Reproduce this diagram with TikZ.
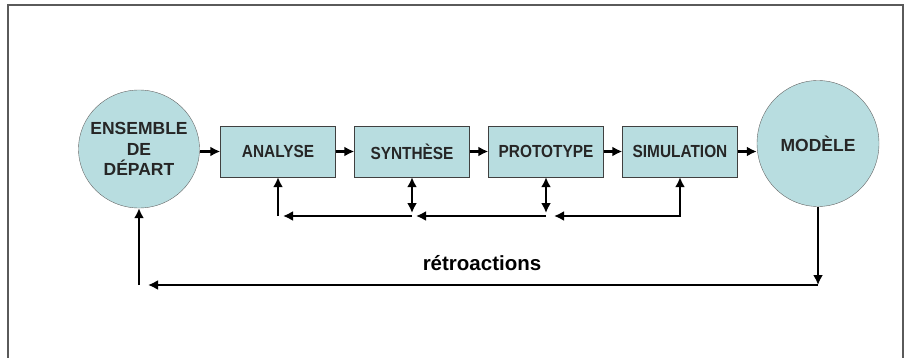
\documentclass[tikz,border=0pt]{standalone}
\usepackage{fontspec}
\setmainfont{Liberation Sans}
\newfontfamily\boxfont[FakeStretch=0.88]{Liberation Sans}
\usetikzlibrary{shapes.geometric,positioning,arrows.meta}
\definecolor{fillblue}{RGB}{184,221,224}
\definecolor{framegray}{RGB}{90,90,90}

\begin{document}
\begin{tikzpicture}[x=1pt,y=-1pt,node distance=134pt]
        \tikzstyle{etape} = [rectangle, minimum width=115pt, minimum height=51pt, text centered, draw=black!75, fill=fillblue, text=black!85, font=\boxfont\bfseries\fontsize{17.5}{20}\selectfont]
        \tikzstyle{extremite} = [ellipse, draw=black!60, fill=fillblue, align=center, text=black!85, inner sep=-20pt, font=\bfseries\fontsize{17.5}{20.5}\selectfont]
        \tikzstyle{arrow} = [line width=2.6pt,-{Latex[length=10pt,width=10pt]}]
        \tikzstyle{darrow} = [line width=2.6pt,{Latex[length=10pt,width=10pt]}-{Latex[length=10pt,width=10pt]}]

        \useasboundingbox (0,0) rectangle (904,358);
        \draw [framegray, line width=1.5pt] (8,358) -- (8,5) -- (903,5) -- (903,358);

        \node (ensemble) [extremite, minimum width=121pt, minimum height=118pt] at (139,149) {ENSEMBLE\\DE\\DÉPART};
        \node (analyse) [etape] at (278,151.5) {ANALYSE};
        \node (synthese) [etape, right of=analyse] {SYNTHÈSE};
        \node (prototype) [etape, right of=synthese] {PROTOTYPE};
        \node (simulation) [etape, right of=prototype] {SIMULATION};
        \node (modele) [extremite, minimum width=122pt, minimum height=126pt] at (818,143.5) {MODÈLE};
        \node (retro) at (482,263) {\bfseries\fontsize{20.5}{24}\selectfont rétroactions};

        \coordinate (retour) at (0,216);
        \coordinate (bas) at (0,285);

        % chaine principale
        \draw [arrow] (analyse.west -| ensemble.east) -- (analyse.west);
        \draw [arrow] (analyse) -- (synthese);
        \draw [arrow] (synthese) -- (prototype);
        \draw [arrow] (prototype) -- (simulation);
        \draw [arrow] (simulation.east) -- (simulation.east -| modele.west);

        % retours entre etapes
        \draw [arrow] (analyse.south |- retour) -- (analyse.south);
        \draw [darrow] (synthese.south) -- ([yshift=3pt]synthese.south |- retour);
        \draw [darrow] (prototype.south) -- ([yshift=3pt]prototype.south |- retour);
        \draw [arrow] (synthese.south |- retour) -- ([xshift=5pt]analyse.south |- retour);
        \draw [arrow] (prototype.south |- retour) -- ([xshift=4pt]synthese.south |- retour);
        \draw [darrow] ([xshift=8pt]prototype.south |- retour) -| (simulation.south);

        % retroactions
        \draw [arrow] (modele.south) -- (modele.south |- bas);
        \draw [arrow] (modele.south |- bas) -- ([xshift=9pt]ensemble.south |- bas);
        \draw [arrow] (ensemble.south |- bas) -- (ensemble.south);
\end{tikzpicture}
\end{document}
